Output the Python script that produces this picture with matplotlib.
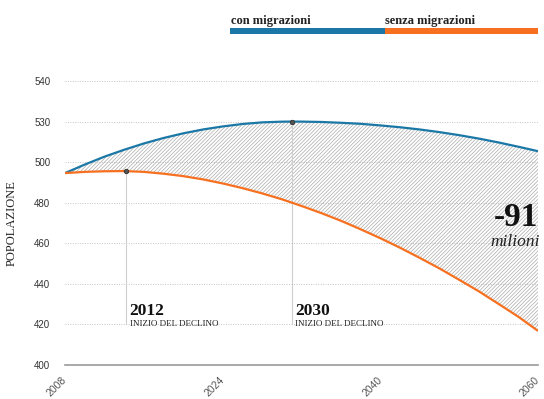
import numpy as np
import matplotlib
matplotlib.use("Agg")
import matplotlib.pyplot as plt
import matplotlib.transforms as mtransforms
from matplotlib.patches import Rectangle

# x positions on the (non linear) time axis: 0 = 2008, 3 = 2060
x_pos = [0, 0.125, 0.25, 0.375, 0.5, 0.625, 0.75, 0.875, 1.0, 1.125, 1.25, 1.375, 1.44,
         1.5, 1.625, 1.75, 1.875, 2.0, 2.125, 2.25, 2.375, 2.5, 2.625, 2.75, 2.875, 3.0]
con_migr = [494.6, 498.8, 502.7, 506.1, 509.2, 511.9, 514.2, 516.1, 517.6, 518.8, 519.6, 519.95, 520.0,
            519.98, 519.8, 519.4, 518.9, 518.1, 517.2, 516.1, 514.8, 513.3, 511.6, 509.7, 507.6, 505.4]
senza_migr = [494.6, 495.2, 495.5, 495.6, 495.2, 494.3, 493.1, 491.5, 489.5, 487.2, 484.6, 481.7, 480.0,
              478.4, 474.9, 471.1, 466.9, 462.5, 457.8, 452.8, 447.6, 442.0, 436.3, 430.1, 423.8, 416.8]

xtick_pos = [0, 1, 2, 3]
xtick_labels = ['2008', '2024', '2040', '2060']
ytick_pos = [400, 420, 440, 460, 480, 500, 520, 540]
ytick_labels = ['400', '420', '440', '460', '480', '500', '530', '540']

# inizio del declino: (x position, y value on curve, label)
declino_x = [0.39, 1.44]
declino_y = [495.6, 520.0]
declino_labels = ['2012', '2030']

BLUE = '#1b78a6'
ORANGE = '#f7701f'
SERIF = 'Liberation Serif'

plt.rcParams['hatch.linewidth'] = 0.5
plt.rcParams['hatch.color'] = '#ababab'

fig = plt.figure(figsize=(5.44, 3.99), dpi=100)
ax = fig.add_axes([0.1195, 0.0852, 0.8695, 0.7118])

ax.fill_between(x_pos, senza_migr, con_migr, facecolor='none', edgecolor='#ababab',
                hatch='/' * 9, linewidth=0, zorder=1)
ax.plot(x_pos, con_migr, color=BLUE, lw=1.6, zorder=3, solid_capstyle='butt')
ax.plot(x_pos, senza_migr, color=ORANGE, lw=1.6, zorder=3, solid_capstyle='butt')

for xd, yd, lab in zip(declino_x, declino_y, declino_labels):
    ax.plot([xd, xd], [420, yd], color='#cfcfcf', lw=0.8, zorder=2)
    ax.plot(xd, yd, 'o', ms=3.2, mfc='#555555', mec='#333333', mew=0.6, zorder=4)
    ax.text(xd + 0.02, 424.6, lab, family=SERIF, fontweight='bold', fontsize=12.5,
            color='#111111', va='baseline', ha='left')
    ax.text(xd + 0.02, 419.4, 'INIZIO DEL DECLINO', family=SERIF, fontsize=6.5,
            color='#222222', va='baseline', ha='left')

ax.text(3.0, 468.6, '-91', family=SERIF, fontweight='bold', fontsize=24,
        color='#111111', ha='right', va='baseline')
ax.text(3.013, 458.8, 'milioni', family=SERIF, style='italic', fontsize=12.5,
        color='#222222', ha='right', va='baseline')

ax.set_xlim(0, 3)
ax.set_ylim(400, 540)
ax.set_xticks(xtick_pos)
ax.set_xticklabels(xtick_labels, fontsize=7.5, color='#555555', family='Liberation Sans')
offset = mtransforms.ScaledTranslation(4.5 / 100, 0, fig.dpi_scale_trans)
for lbl in ax.get_xticklabels():
    lbl.set_rotation(45)
    lbl.set_rotation_mode('anchor')
    lbl.set_ha('right')
    lbl.set_va('center')
    lbl.set_transform(lbl.get_transform() + offset)
ax.set_yticks(ytick_pos)
ax.set_yticklabels(ytick_labels, fontsize=7, color='#333333', family='Liberation Sans')
ax.tick_params(axis='both', length=0)
ax.tick_params(axis='y', pad=10.5)
ax.tick_params(axis='x', pad=10)

for s in ['top', 'right', 'left']:
    ax.spines[s].set_visible(False)
ax.spines['bottom'].set_color('#9a9a9a')
ax.spines['bottom'].set_linewidth(1.2)

for yv in ytick_pos[1:]:
    ax.axhline(yv, color='#c4c4c4', lw=0.7, ls=(0, (1, 1.5)), zorder=0, clip_on=False)

ax.set_ylabel('POPOLAZIONE', family=SERIF, fontsize=9, color='#222222')
ax.yaxis.set_label_coords(-0.0994, 0.5)

# legend at the top
fig.text(231 / 544, 1 - 24 / 399, 'con migrazioni', family=SERIF, fontweight='bold',
         fontsize=9, color='#222222', va='baseline')
fig.text(385 / 544, 1 - 24 / 399, 'senza migrazioni', family=SERIF, fontweight='bold',
         fontsize=9, color='#222222', va='baseline')
fig.add_artist(Rectangle((230 / 544, 1 - 34 / 399), 155 / 544, 6 / 399,
                         transform=fig.transFigure, color=BLUE, lw=0))
fig.add_artist(Rectangle((385 / 544, 1 - 34 / 399), 153 / 544, 6 / 399,
                         transform=fig.transFigure, color=ORANGE, lw=0))

fig.savefig('out.png', dpi=100, facecolor='white')
